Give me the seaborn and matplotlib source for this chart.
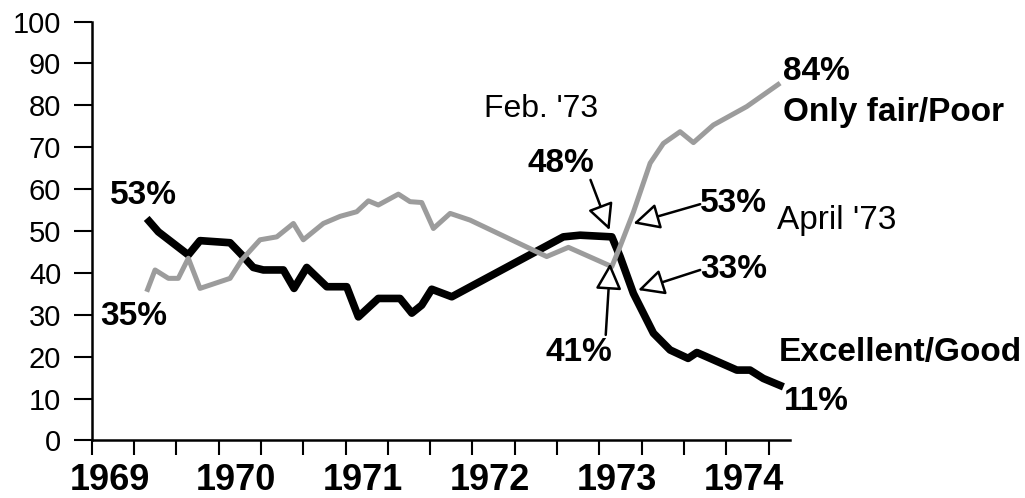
import pandas as pd
import seaborn as sns
import matplotlib.pyplot as plt

## Data (time in decimal years, values in %)

# Excellent/Good
good_t = [1969.433, 1969.525, 1969.761, 1969.853, 1970.090, 1970.182, 1970.273,
          1970.352, 1970.510, 1970.594, 1970.694, 1970.852, 1971.009, 1971.101,
          1971.258, 1971.429, 1971.522, 1971.600, 1971.679, 1971.837, 1972.716,
          1972.848, 1973.098, 1973.163, 1973.268, 1973.426, 1973.557, 1973.699,
          1973.768, 1974.083, 1974.187, 1974.292, 1974.450]
good_v = [53, 49.8, 44.3, 47.7, 47.2, 44.3, 41.3,
          40.7, 40.7, 36.3, 41.3, 36.7, 36.7, 29.5,
          33.9, 33.9, 30.4, 32.3, 36.1, 34.3, 48.6,
          49, 48.6, 43.9, 35.1, 25.6, 21.6, 19.6,
          21, 16.8, 16.8, 14.8, 12.8]

# Only fair/Poor
poor_t = [1969.433, 1969.499, 1969.604, 1969.682, 1969.761, 1969.853, 1970.090,
          1970.182, 1970.326, 1970.458, 1970.589, 1970.667, 1970.825, 1970.957,
          1971.088, 1971.180, 1971.258, 1971.416, 1971.508, 1971.600, 1971.692,
          1971.824, 1971.981, 1972.585, 1972.756, 1973.098, 1973.163, 1973.268,
          1973.400, 1973.504, 1973.636, 1973.741, 1973.898, 1974.161, 1974.424]
poor_v = [35.5, 40.7, 38.7, 38.7, 43.5, 36.3, 38.7,
          43.1, 47.9, 48.6, 51.8, 47.9, 51.8, 53.5,
          54.6, 57.2, 56.2, 58.8, 57, 56.8, 50.6,
          54.2, 52.6, 43.9, 46.1, 41.5, 46.3, 54.5,
          66.2, 70.9, 73.7, 71.1, 75.3, 79.7, 85.3]

years = [1969, 1970, 1971, 1972, 1973, 1974]
y_ticks = list(range(0, 101, 10))

df_good = pd.DataFrame({"t": good_t, "v": good_v})
df_poor = pd.DataFrame({"t": poor_t, "v": poor_v})

sns.set_style("ticks", {"axes.edgecolor": "black", "text.color": "black",
                        "xtick.color": "black", "ytick.color": "black"})
plt.rcParams['font.family'] = ['Liberation Sans', 'DejaVu Sans']

fig = plt.figure(figsize=(10.25, 4.98), dpi=100)
ax = fig.add_axes([0.0895, 0.1155, 0.681, 0.8413])

# the two series (gray drawn on top of black, like the original)
sns.lineplot(data=df_good, x="t", y="v", color="black", linewidth=5.5, ax=ax,
             sort=False, estimator=None, solid_capstyle="butt")
sns.lineplot(data=df_poor, x="t", y="v", color="#9c9c9c", linewidth=3.6, ax=ax,
             sort=False, estimator=None, solid_capstyle="butt")

ax.set_xlim(1969.0, 1974.5)
ax.set_ylim(0, 100)
ax.set_xlabel("")
ax.set_ylabel("")
sns.despine(ax=ax)
for s in ["left", "bottom"]:
    ax.spines[s].set_linewidth(1.8)

# y axis
ax.set_yticks(y_ticks)
ax.tick_params(axis="y", length=13, width=1.5, pad=9, labelsize=21,
               labelcolor="black")

# x axis : ticks every 4 months, year labels sit between ticks
ax.set_xticks([1969 + k / 3 for k in range(17)])
ax.set_xticklabels([])
ax.tick_params(axis="x", which="major", length=11, width=1.5)
ax.set_xticks([y + 0.14 for y in years], minor=True)
ax.set_xticklabels([str(y) for y in years], minor=True,
                   fontfamily=["Liberation Sans Narrow", "Liberation Sans"],
                   fontweight="bold", fontsize=26)
ax.tick_params(axis="x", which="minor", length=0, pad=16, labelcolor="black")

# labels
bold = dict(fontweight="bold", fontsize=24, ha="center", va="center",
            color="black")
ax.text(1969.41, 58.4, "53%", **bold)
ax.text(1969.33, 29.5, "35%", **bold)
ax.text(1972.54, 79.2, "Feb. '73", fontsize=23, ha="center", va="center")
ax.text(1972.70, 66.0, "48%", **bold)
ax.text(1972.84, 20.9, "41%", **bold)
ax.text(1974.056, 56.6, "53%", **bold)
ax.text(1974.87, 52.6, "April '73", fontsize=24, ha="center", va="center")
ax.text(1974.06, 40.9, "33%", **bold)
ax.text(1974.71, 88.0, "84%", **bold)
ax.text(1975.32, 78.4, "Only fair/Poor", **bold)
ax.text(1975.37, 21.1, "Excellent/Good", **bold)
ax.text(1974.71, 9.2, "11%", **bold)

# open-headed arrows
arrow = dict(arrowstyle="-|>,head_length=0.8,head_width=0.4", fc="white",
             ec="black", lw=1.8, shrinkA=0, shrinkB=0, mutation_scale=20)
ax.annotate("", xy=(1973.08, 50.2), xytext=(1972.93, 62.2), arrowprops=arrow)
ax.annotate("", xy=(1973.085, 42.3), xytext=(1973.05, 25.2), arrowprops=arrow)
ax.annotate("", xy=(1973.268, 51.8), xytext=(1973.794, 56.4), arrowprops=arrow)
ax.annotate("", xy=(1973.305, 35.9), xytext=(1973.794, 40.7), arrowprops=arrow)

plt.savefig("out.png", dpi=100)
